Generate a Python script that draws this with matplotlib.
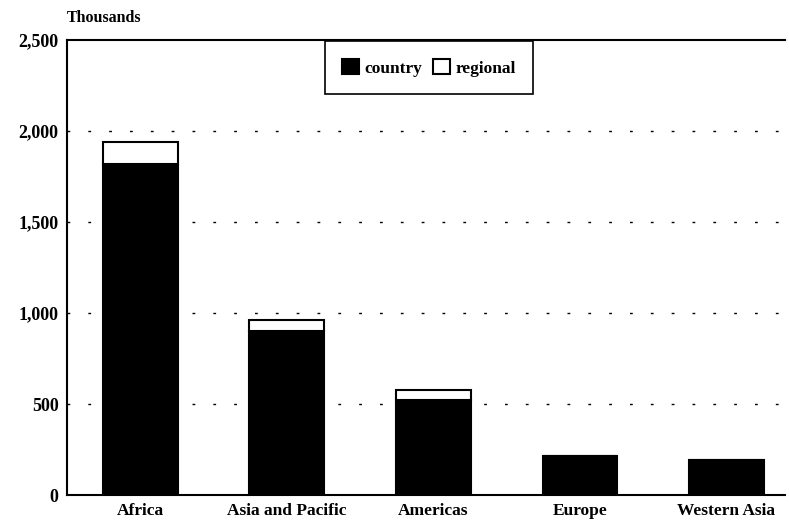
import matplotlib
matplotlib.use("Agg")
import matplotlib.pyplot as plt
import numpy as np

regions = ["Africa", "Asia and Pacific", "Americas", "Europe", "Western Asia"]
country = [1820, 900, 520, 215, 192]
regional = [120, 62, 57, 0, 0]
yticks = [0, 500, 1000, 1500, 2000, 2500]
ytick_labels = ["0", "500", "1,000", "1,500", "2,000", "2,500"]

plt.rcParams["font.family"] = ["Liberation Serif", "DejaVu Serif"]
plt.rcParams["font.weight"] = "bold"

fig = plt.figure(figsize=(7.89, 5.28), dpi=100)
ax = fig.add_axes([0.085, 0.0625, 0.91, 0.8615])

x = np.arange(len(regions))
w = 0.51
ax.bar(x, country, w, color="black", edgecolor="black", linewidth=1.5,
       label="country", zorder=3)
ax.bar(x, regional, w, bottom=country, color="white", edgecolor="black",
       linewidth=1.5, label="regional", zorder=3)

ax.set_xlim(-0.5, 4.4)
ax.set_ylim(0, 2500)
ax.set_yticks(yticks)
ax.set_yticklabels(ytick_labels, fontsize=13, fontweight="bold")
ax.set_xticks(x)
ax.set_xticklabels(regions, fontsize=12.5, fontweight="bold")
ax.tick_params(length=0, pad=6)

# sparse dotted grid, behind the bars
for y in yticks[1:-1]:
    ax.axhline(y, color="black", linestyle=(0, (2, 13)), linewidth=1,
               zorder=1)

ax.spines["right"].set_visible(False)
for s in ("left", "top", "bottom"):
    ax.spines[s].set_linewidth(1.5)

fig.text(0.085, 0.965, "Thousands", fontsize=11.5, fontweight="bold",
         ha="left", va="center")

leg = ax.legend(loc="upper center", bbox_to_anchor=(0.504, 0.997), ncol=2,
                borderaxespad=0, handlelength=1.0, handleheight=1.0,
                handletextpad=0.3, columnspacing=0.6, fancybox=False,
                edgecolor="black", framealpha=1, borderpad=1.0,
                prop={"size": 12.5, "weight": "bold"})
leg.get_frame().set_linewidth(1.2)

fig.savefig("out.png", dpi=100)
